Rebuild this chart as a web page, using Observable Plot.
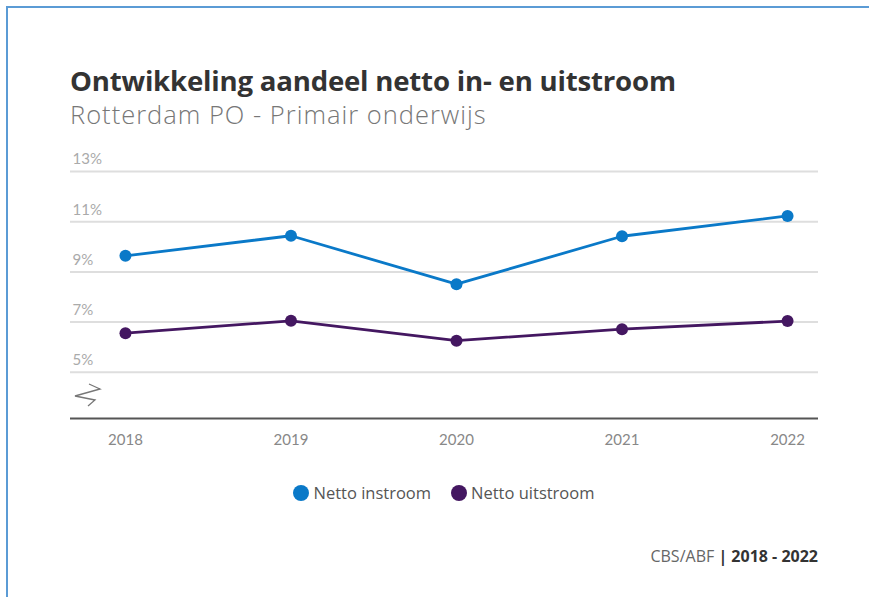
<!DOCTYPE html>
<html>
<head>
<meta charset="utf-8">
<script src="https://cdn.jsdelivr.net/npm/d3@7"></script>
<script src="https://cdn.jsdelivr.net/npm/@observablehq/plot@0.6"></script>
<style>
  html, body { margin: 0; padding: 0; background: #fff; }
  body { width: 869px; height: 597px; position: relative; overflow: hidden; font-family: Lato, "Open Sans", sans-serif; }
  .frame-top { position: absolute; left: 6px; top: 6px; width: 863px; height: 2px; background: #5b9bd5; }
  .frame-left { position: absolute; left: 6px; top: 6px; width: 2px; height: 591px; background: #5b9bd5; }
  #title { position: absolute; left: 70px; top: 61px; font-family: "Open Sans", sans-serif; font-size: 27.6px; font-weight: 700; color: #333; white-space: nowrap; letter-spacing: -0.2px; }
  #subtitle { position: absolute; left: 70px; top: 97px; font-family: "Open Sans", sans-serif; font-size: 25.5px; font-weight: 300; color: #777; white-space: nowrap; letter-spacing: 1px; }
  #chart { position: absolute; left: 0; top: 140px; }
  #brk { position: absolute; left: 70px; top: 380px; }
  #legend { position: absolute; left: 0; width: 869px; top: 481px; text-align: center; font-size: 16.5px; color: #555; padding-left: 19px; box-sizing: border-box; font-family: "Open Sans", sans-serif; }
  #legend span.item { display: inline-flex; align-items: center; margin: 0 10px; }
  #legend span.sw { display: inline-block; width: 16px; height: 16px; border-radius: 50%; margin-right: 4px; }
  #caption { position: absolute; right: 51px; top: 545px; font-family: "Open Sans", sans-serif; font-size: 16px; color: #666; white-space: nowrap; }
  #caption b { color: #333; }
</style>
</head>
<body>
<div class="frame-top"></div>
<div class="frame-left"></div>
<div id="title"></div>
<div id="subtitle"></div>
<div id="chart"></div>
<svg id="brk" width="40" height="32"><path d="M19 4 L30 9 L5 16 L25 20 L18 26" fill="none" stroke="#777" stroke-width="1.3"/></svg>
<div id="legend"></div>
<div id="caption"></div>
<script>
const titleText = "Ontwikkeling aandeel netto in- en uitstroom";
const subtitleText = "Rotterdam PO - Primair onderwijs";
const years = [2018, 2019, 2020, 2021, 2022];
const instroom = [9.64, 10.44, 8.51, 10.42, 11.23];
const uitstroom = [6.56, 7.05, 6.26, 6.72, 7.04];
const seriesNames = ["Netto instroom", "Netto uitstroom"];
const seriesColors = ["#0a79c8", "#441761"];
const yTicks = [5, 7, 9, 11, 13];
const yTickLabels = ["5%", "7%", "9%", "11%", "13%"];
const captionSource = "CBS/ABF";
const captionPeriod = "2018 - 2022";

document.getElementById("title").textContent = titleText;
document.getElementById("subtitle").textContent = subtitleText;

const data = [];
years.forEach((y, i) => {
  data.push({year: y, value: instroom[i], series: seriesNames[0]});
  data.push({year: y, value: uitstroom[i], series: seriesNames[1]});
});
const tickData = yTicks.map((t, i) => ({t, label: yTickLabels[i]}));

const chart = Plot.plot({
  width: 869,
  height: 320,
  marginLeft: 70,
  marginRight: 51,
  marginTop: 31,
  marginBottom: 42,
  style: {fontFamily: "Lato, 'Open Sans', sans-serif", background: "transparent"},
  x: {domain: [2017.668, 2022.187], axis: null},
  y: {domain: [3.16, 13], axis: null},
  color: {domain: seriesNames, range: seriesColors},
  marks: [
    Plot.ruleY(yTicks, {stroke: "#dedede", strokeWidth: 2}),
    Plot.text(tickData, {y: "t", text: "label", frameAnchor: "left", textAnchor: "start", dx: 2, dy: -12, fill: "#aaa", fontSize: 15}),
    Plot.ruleY([3.16], {stroke: "#555", strokeWidth: 2}),
    Plot.axisX(years, {tickSize: 0, tickPadding: 16, tickFormat: d => String(d), fill: "#888", fontSize: 15, label: null}),
    Plot.line(data, {x: "year", y: "value", stroke: "series", z: "series", strokeWidth: 2.8}),
    Plot.dot(data, {x: "year", y: "value", fill: "series", r: 6})
  ]
});
document.getElementById("chart").appendChild(chart);

const legend = document.getElementById("legend");
seriesNames.forEach((n, i) => {
  const item = document.createElement("span");
  item.className = "item";
  const sw = document.createElement("span");
  sw.className = "sw";
  sw.style.background = seriesColors[i];
  item.appendChild(sw);
  item.appendChild(document.createTextNode(n));
  legend.appendChild(item);
});
document.getElementById("caption").innerHTML = captionSource + " <b>| " + captionPeriod + "</b>";
</script>
</body>
</html>
